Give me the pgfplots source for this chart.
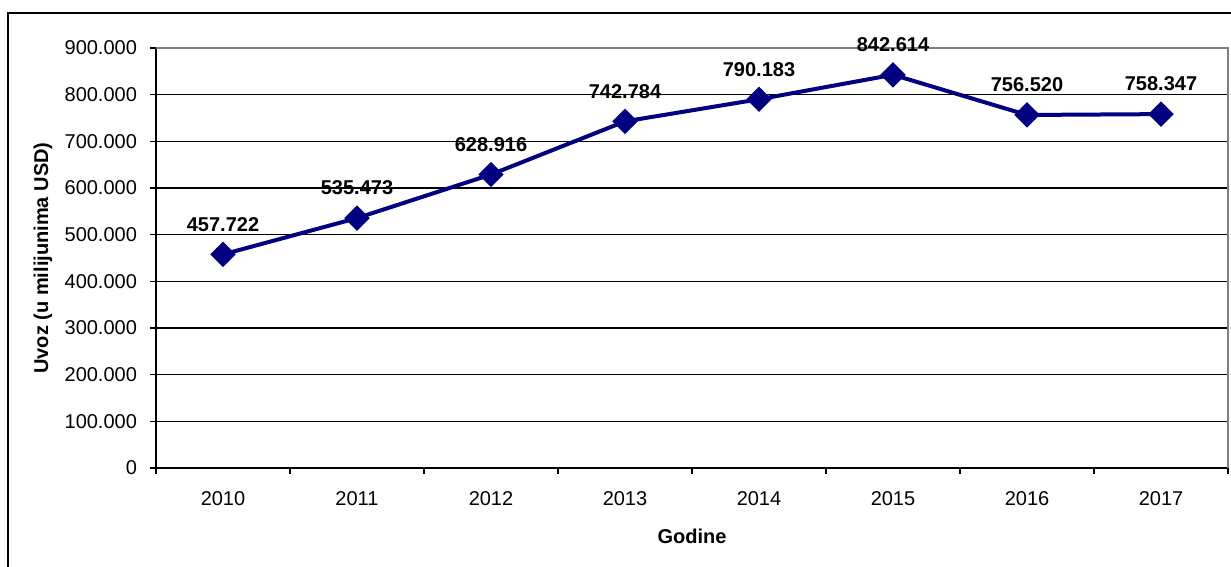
\documentclass[border=0pt]{standalone}
\usepackage{fontspec}
\setmainfont{Liberation Sans}
\usepackage{pgfplots}
\pgfplotsset{compat=1.18}
\definecolor{navyline}{RGB}{0,0,128}

\begin{document}
\begin{tikzpicture}
% picture size: 1231x567 px at 0.5pt per px, origin at the axis corner
\useasboundingbox (-78pt,-49.5pt) rectangle (537.5pt,234pt);
\draw[line width=1pt] (-74pt,-60pt) -- (-74pt,227.5pt) -- (560pt,227.5pt);
\begin{axis}[
    at={(0,0)}, anchor=south west,
    scale only axis,
    width=536pt, height=210pt,
    xmin=-0.5, xmax=7.5,
    ymin=0, ymax=900000,
    axis x line*=bottom,
    axis y line*=left,
    axis line style={line width=0.75pt, black},
    tick align=outside,
    major tick length=3pt,
    tick style={line width=0.6pt, black},
    xtick={-0.5,0.5,...,7.5},
    xticklabels={},
    extra x ticks={0,1,2,3,4,5,6,7},
    extra x tick labels={2010,2011,2012,2013,2014,2015,2016,2017},
    extra x tick style={major tick length=0pt, xticklabel style={yshift=-8pt}},
    ytick={0,100000,200000,300000,400000,500000,600000,700000,800000},
    extra y ticks={900000},
    extra y tick style={grid=none},
    yticklabel style={xshift=-3pt},
    ymajorgrids,
    major grid style={line width=0.6pt, black},
    scaled y ticks=false,
    /pgf/number format/.cd, fixed, 1000 sep={.}, assume math mode=true,
    /pgfplots/.cd,
    ticklabel style={font=\fontsize{10}{12}\selectfont},
    xlabel={Godine},
    ylabel={Uvoz (u milijunima USD)},
    label style={font=\fontsize{10}{12}\selectfont\bfseries},
    xlabel style={at={(axis description cs:0.5,0)}, anchor=center, yshift=-34pt},
    ylabel style={at={(axis description cs:0,0.5)}, anchor=center, xshift=0pt, yshift=56.5pt},
    clip=false,
    nodes near coords,
    point meta=explicit symbolic,
    every node near coord/.append style={font=\fontsize{10}{12}\selectfont\bfseries,
        anchor=center, yshift=15pt, text=black},
]
\addplot[color=navyline, line width=2pt, mark=square*,
         mark size=3.5pt, mark options={rotate=45, solid, fill=navyline}]
coordinates {
    (0,457722) [457.722]
    (1,535473) [535.473]
    (2,628916) [628.916]
    (3,742784) [742.784]
    (4,790183) [790.183]
    (5,842614) [842.614]
    (6,756520) [756.520]
    (7,758347) [758.347]
};
\draw[gray, line width=0.75pt] (rel axis cs:0,1) -- (rel axis cs:1,1) -- (rel axis cs:1,0);
\end{axis}
\end{tikzpicture}
\end{document}
